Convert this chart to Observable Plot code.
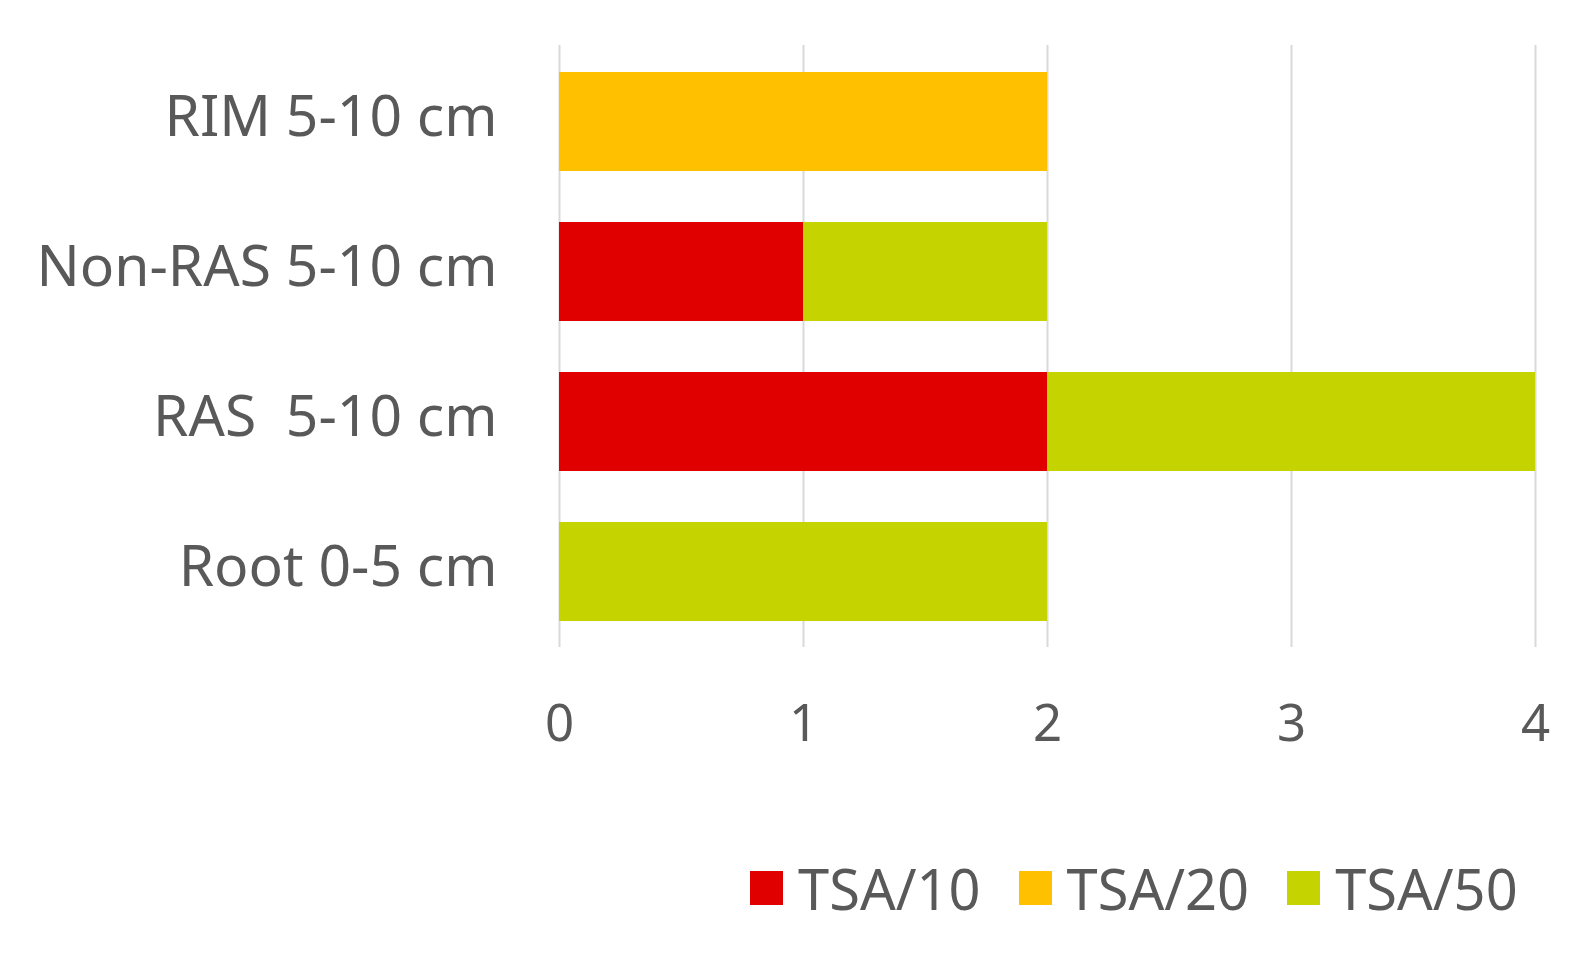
<!DOCTYPE html>
<html>
<head>
<meta charset="utf-8">
<script src="https://cdn.jsdelivr.net/npm/d3@7"></script>
<script src="https://cdn.jsdelivr.net/npm/@observablehq/plot@0.6"></script>
<style>
  body { margin: 0; background: #fff; font-family: "Noto Sans", sans-serif; }
  #legend { position: absolute; left: 750px; top: 850px; display: flex; align-items: center; font-size: 56px; color: #595959; }
  .item { display: flex; align-items: center; margin-right: 38px; }
  .sw { width: 33px; height: 34px; margin-right: 15px; }
</style>
</head>
<body>
<div id="chart"></div>
<div id="legend"></div>
<script>
const categories = ["RIM 5-10 cm", "Non-RAS 5-10 cm", "RAS  5-10 cm", "Root 0-5 cm"];
const series = ["TSA/10", "TSA/20", "TSA/50"];
const colors = ["#E00000", "#FFC000", "#C5D300"];
const tsa10 = [0, 1, 2, 0];
const tsa20 = [2, 0, 0, 0];
const tsa50 = [0, 1, 2, 2];
const xTicks = [0, 1, 2, 3, 4];

const values = [tsa10, tsa20, tsa50];
const data = [];
series.forEach((s, si) => categories.forEach((c, ci) => {
  if (values[si][ci] > 0) data.push({category: c, series: s, value: values[si][ci]});
}));

const chart = Plot.plot({
  width: 1585,
  height: 840,
  marginLeft: 559,
  marginRight: 50,
  marginTop: 45,
  marginBottom: 193,
  style: {fontFamily: "Noto Sans, sans-serif", color: "#595959", background: "#fff"},
  x: {domain: [0, 4], ticks: xTicks, label: null, grid: false},
  y: {domain: categories, label: null, paddingInner: 0.34, paddingOuter: 0.17},
  color: {domain: series, range: colors},
  marks: [
    Plot.ruleX(xTicks, {stroke: "#d9d9d9", strokeWidth: 2}),
    Plot.barX(data, Plot.stackX({x: "value", y: "category", fill: "series", order: series, inset: 0})),
    Plot.axisX({ticks: xTicks, tickSize: 0, tickPadding: 57, fontSize: 51, fill: "#595959", tickFormat: d => String(d), label: null}),
    Plot.axisY({tickSize: 0, tickPadding: 62, fontSize: 57, dy: -4, fill: "#595959", label: null})
  ]
});
document.getElementById("chart").appendChild(chart);

const legend = document.getElementById("legend");
series.forEach((s, i) => {
  const item = document.createElement("div");
  item.className = "item";
  const sw = document.createElement("div");
  sw.className = "sw";
  sw.style.background = colors[i];
  const t = document.createElement("span");
  t.textContent = s;
  item.appendChild(sw);
  item.appendChild(t);
  legend.appendChild(item);
});
</script>
</body>
</html>
